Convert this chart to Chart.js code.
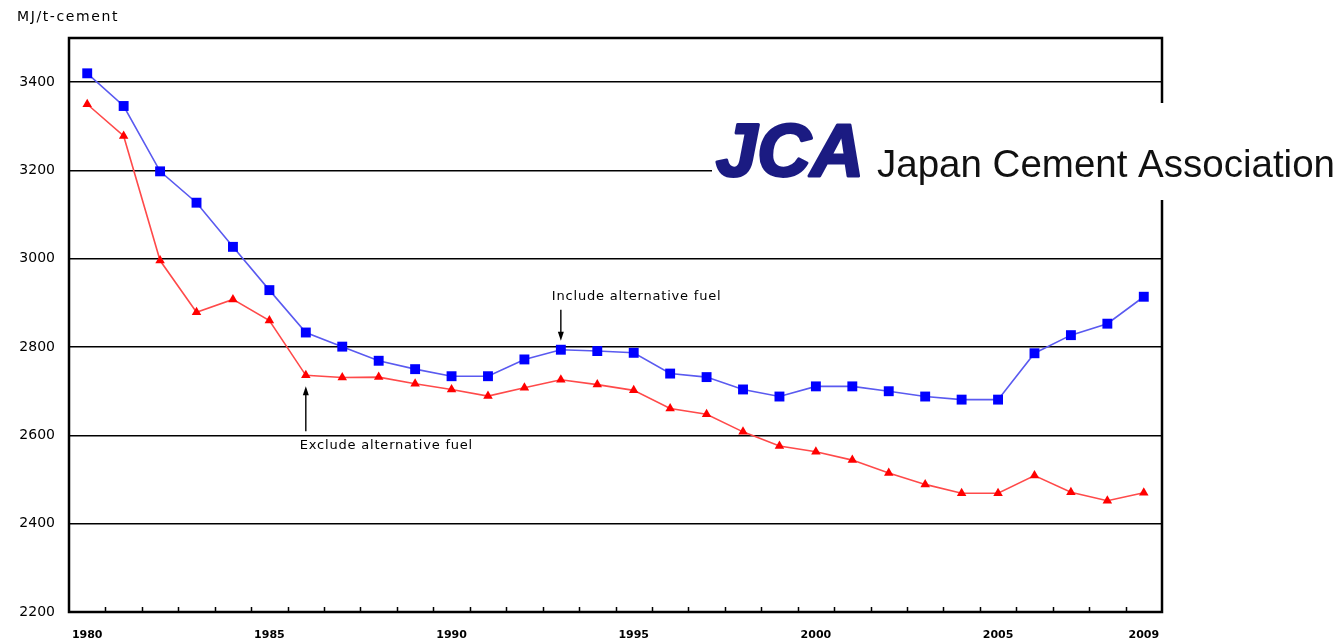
<!DOCTYPE html>
<html>
<head>
<meta charset="utf-8">
<title>Energy intensity of cement production</title>
<script src="https://cdn.jsdelivr.net/npm/chart.js@4/dist/chart.umd.min.js"></script>
<style>
    html, body { margin: 0; padding: 0; background: #fff; }
    #wrap { position: relative; width: 1342px; height: 643px; }
</style>
</head>
<body>
<div id="wrap"><canvas id="energy-chart" width="1342" height="643"></canvas></div>
<script>
// --- Data ---
const years = ['1980', '1981', '1982', '1983', '1984', '1985', '1986', '1987', '1988', '1989',
               '1990', '1991', '1992', '1993', '1994', '1995', '1996', '1997', '1998', '1999',
               '2000', '2001', '2002', '2003', '2004', '2005', '2006', '2007', '2008', '2009'];
const includeAltFuel = [3420, 3346, 3198, 3127, 3027, 2929, 2833, 2801, 2769, 2750,
                        2734, 2734, 2772, 2794, 2791, 2787, 2740, 2732, 2704, 2688,
                        2711, 2711, 2700, 2688, 2681, 2681, 2786, 2827, 2853, 2914];
const excludeAltFuel = [3350, 3278, 2996, 2879, 2908, 2860, 2736, 2731, 2732, 2717,
                        2704, 2689, 2708, 2726, 2715, 2702, 2661, 2648, 2608, 2576,
                        2563, 2544, 2515, 2489, 2469, 2469, 2509, 2471, 2452, 2470];
const yTicks = [2200, 2400, 2600, 2800, 3000, 3200, 3400];
const xLabelYears = ['1980', '1985', '1990', '1995', '2000', '2005', '2009'];
const unitLabel = 'MJ/t-cement';
const includeNote = 'Include alternative fuel';
const excludeNote = 'Exclude alternative fuel';
const logoMark = 'JCA';
const logoName = 'Japan Cement Association';

// --- Helpers ---
function drawArrow(ctx, x, fromY, toY) {
    const dir = toY > fromY ? 1 : -1;
    ctx.save();
    ctx.strokeStyle = '#000';
    ctx.fillStyle = '#000';
    ctx.lineWidth = 1.4;
    ctx.beginPath();
    ctx.moveTo(x, fromY);
    ctx.lineTo(x, toY - dir * 6);
    ctx.stroke();
    ctx.beginPath();
    ctx.moveTo(x, toY);
    ctx.lineTo(x - 3, toY - dir * 9);
    ctx.lineTo(x + 3, toY - dir * 9);
    ctx.closePath();
    ctx.fill();
    ctx.restore();
}

// Box round the plot, short inward ticks between years, notes and logo
const decorations = {
    id: 'decorations',
    beforeDatasetsDraw(chart) {
        const { ctx, chartArea: a, scales: { x } } = chart;
        ctx.save();
        ctx.strokeStyle = '#000';
        ctx.lineWidth = 1.5;
        ctx.beginPath();
        for (let i = 1; i < years.length; i++) {
            const px = Math.round((x.getPixelForValue(i - 1) + x.getPixelForValue(i)) / 2) + 0.5;
            ctx.moveTo(px, a.bottom);
            ctx.lineTo(px, a.bottom - 5);
        }
        ctx.stroke();
        ctx.lineWidth = 2.5;
        ctx.strokeRect(a.left, a.top, a.right - a.left, a.bottom - a.top);
        ctx.restore();
    },
    afterDraw(chart) {
        const { ctx, scales: { x, y } } = chart;
        ctx.save();
        ctx.fillStyle = '#000';
        ctx.textBaseline = 'middle';
        ctx.textAlign = 'left';

        ctx.font = '14px "DejaVu Sans"';
        ctx.letterSpacing = '1.6px';
        ctx.fillText(unitLabel, 17, 17);

        ctx.font = '13px "DejaVu Sans"';
        ctx.letterSpacing = '0.8px';
        const incX = x.getPixelForValue(years.indexOf('1993'));
        const incY = y.getPixelForValue(includeAltFuel[years.indexOf('1993')]);
        ctx.fillText(includeNote, incX - 9, incY - 53);
        drawArrow(ctx, incX, incY - 40, incY - 9);

        const excX = x.getPixelForValue(years.indexOf('1986'));
        const excY = y.getPixelForValue(excludeAltFuel[years.indexOf('1986')]);
        ctx.fillText(excludeNote, excX - 6, excY + 70);
        drawArrow(ctx, excX, excY + 56, excY + 11);
        ctx.letterSpacing = '0px';

        // logo panel over the upper right
        ctx.fillStyle = '#fff';
        ctx.fillRect(712, 103, 630, 97);
        ctx.fillStyle = '#1b1b82';
        ctx.strokeStyle = '#1b1b82';
        ctx.lineWidth = 3;
        ctx.lineJoin = 'round';
        ctx.textBaseline = 'alphabetic';
        ctx.font = 'italic bold 74px "Liberation Sans"';
        ctx.strokeText(logoMark, 716, 176);
        ctx.fillText(logoMark, 716, 176);
        ctx.fillStyle = '#111';
        ctx.font = '38.5px "Liberation Sans"';
        ctx.fillText(logoName, 877, 177);
        ctx.restore();
    }
};

new Chart(document.getElementById('energy-chart'), {
    type: 'line',
    data: {
        labels: years,
        datasets: [{
            label: includeNote,
            data: includeAltFuel,
            borderColor: '#5a5af0',
            borderWidth: 1.6,
            pointStyle: 'rect',
            pointRadius: 7,
            pointBackgroundColor: '#0000ff',
            pointBorderColor: '#0000ff',
            pointBorderWidth: 0,
            tension: 0
        }, {
            label: excludeNote,
            data: excludeAltFuel,
            borderColor: '#ff4a4a',
            borderWidth: 1.6,
            pointStyle: 'triangle',
            pointRadius: 5.5,
            pointBackgroundColor: '#ff0000',
            pointBorderColor: '#ff0000',
            pointBorderWidth: 0,
            tension: 0
        }]
    },
    options: {
        responsive: false,
        animation: false,
        devicePixelRatio: 1,
        layout: { padding: { top: 38, right: 180, left: 0, bottom: 0 } },
        plugins: {
            legend: { display: false },
            title: { display: false },
            tooltip: { enabled: false }
        },
        scales: {
            x: {
                offset: true,
                grid: { display: false, drawTicks: false },
                border: { display: false },
                afterFit(scale) { scale.height = 31; },
                ticks: {
                    autoSkip: false,
                    maxRotation: 0,
                    padding: 17,
                    color: '#000',
                    font: { family: '"DejaVu Sans"', size: 11, weight: 'bold' },
                    callback(value) {
                        const label = years[value];
                        return xLabelYears.includes(label) ? label : '';
                    }
                }
            },
            y: {
                min: 2200,
                max: 3500,
                afterBuildTicks(scale) { scale.ticks = yTicks.map(v => ({ value: v })); },
                afterFit(scale) { scale.width = 69; },
                grid: { color: '#000', lineWidth: 1.5, drawTicks: false },
                border: { display: false },
                ticks: {
                    padding: 14,
                    color: '#000',
                    font: { family: '"DejaVu Sans"', size: 14 },
                    callback: value => String(value)
                }
            }
        }
    },
    plugins: [decorations]
});
</script>
</body>
</html>
